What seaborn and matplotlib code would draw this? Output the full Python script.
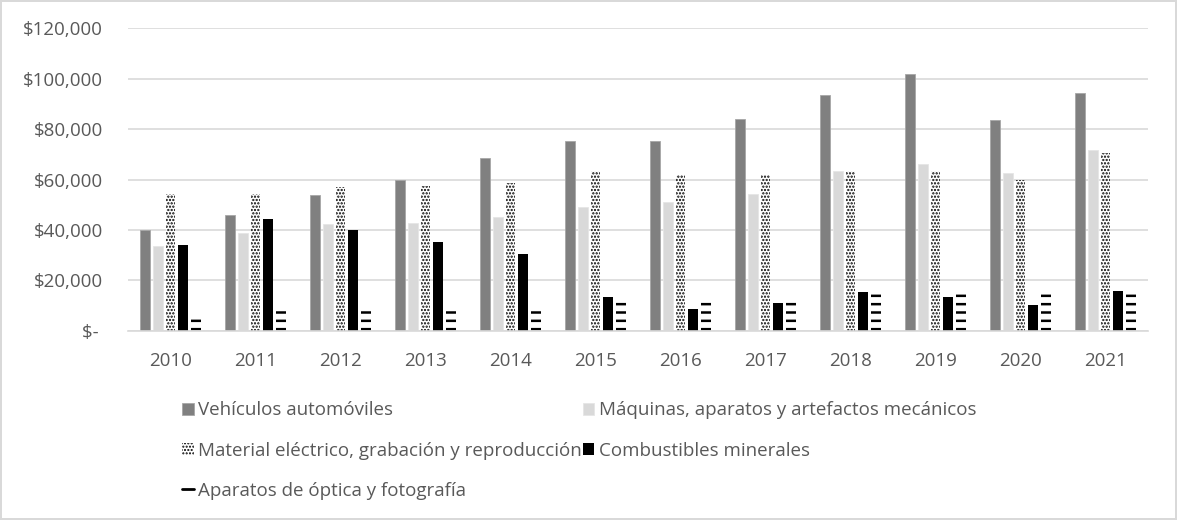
import matplotlib
matplotlib.use("Agg")
import matplotlib.pyplot as plt
import seaborn as sns
import pandas as pd
from matplotlib.lines import Line2D
from matplotlib.ticker import FuncFormatter

years = ["2010", "2011", "2012", "2013", "2014", "2015", "2016", "2017", "2018", "2019", "2020", "2021"]
series = [
    "Vehículos automóviles",
    "Máquinas, aparatos y artefactos mecánicos",
    "Material eléctrico, grabación y reproducción",
    "Combustibles minerales",
    "Aparatos de óptica y fotografía",
]
vehiculos = [40000, 45900, 53700, 59700, 68400, 75150, 75150, 83900, 93400, 101750, 83500, 94450]
maquinas = [33600, 38650, 42300, 42900, 45100, 49200, 51100, 54250, 63400, 66150, 62450, 71600]
material = [54250, 54250, 57100, 57400, 58500, 63400, 61700, 61700, 63400, 63400, 59900, 70650]
combustibles = [34000, 44200, 40000, 35100, 30300, 13650, 8600, 11250, 15350, 13350, 10100, 15900]
optica = [6600, 9500, 9500, 9500, 9500, 12200, 12200, 12200, 15100, 15100, 15100, 15100]

values = [vehiculos, maquinas, material, combustibles, optica]
rows = []
for s, vals in zip(series, values):
    for y, v in zip(years, vals):
        rows.append({"year": y, "series": s, "value": v})
df = pd.DataFrame(rows)

sns.set_theme(style="white")
plt.rcParams["font.family"] = ["Open Sans", "DejaVu Sans"]
plt.rcParams["hatch.linewidth"] = 1.0

fig = plt.figure(figsize=(11.77, 5.2), dpi=100)
fig.patch.set_edgecolor("#d9d9d9")
fig.patch.set_linewidth(1.5)
ax = fig.add_axes([0.1088, 0.3635, 0.8666, 0.5825])

colors = ["#808080", "#d9d9d9", "#ffffff", "#000000", "#ffffff"]
sns.barplot(data=df, x="year", y="value", hue="series", hue_order=series,
            palette=colors, width=0.74, gap=0.22, ax=ax, legend=False,
            errorbar=None, saturation=1)

def set_hlw(p, lw):
    if hasattr(p, "set_hatch_linewidth"):
        p.set_hatch_linewidth(lw)

for i, cont in enumerate(ax.containers):
    for p in cont:
        if i == 0:
            p.set_edgecolor("#a6a6a6"); p.set_linewidth(0.6)
        elif i == 1:
            p.set_edgecolor("#e6e6e6"); p.set_linewidth(0.6)
        elif i == 2:
            p.set_hatch("....."); p.set_edgecolor("black"); p.set_linewidth(0)
            set_hlw(p, 1.1)
        elif i == 3:
            p.set_edgecolor("black"); p.set_linewidth(0)
        else:
            p.set_hatch("--"); p.set_edgecolor("black"); p.set_linewidth(0)
            set_hlw(p, 1.8)

ax.set_ylim(0, 120000)
ax.set_yticks(range(0, 120001, 20000))
ax.yaxis.set_major_formatter(FuncFormatter(lambda v, p: "$- " if v == 0 else f"${int(v):,}"))
ax.grid(axis="y", color="#d9d9d9", linewidth=1.2)
ax.set_axisbelow(True)
for sp in ["top", "right", "left"]:
    ax.spines[sp].set_visible(False)
ax.spines["bottom"].set_color("#d9d9d9")
ax.spines["bottom"].set_linewidth(1.2)
ax.tick_params(axis="both", length=0, labelsize=13.5, labelcolor="#595959")
ax.tick_params(axis="y", pad=18)
ax.tick_params(axis="x", pad=15)
ax.set_xlabel("")
ax.set_ylabel("")

c = ax.containers
h_veh = c[0][0]
h_maq = c[1][0]
h_mat = c[2][0]
h_com = c[3][0]
h_opt = Line2D([], [], color="black", lw=2)
handles = [h_veh, h_mat, h_opt, h_maq, h_com]
labels = [series[0], series[2], series[4], series[1], series[3]]
leg = fig.legend(handles, labels, ncol=2, loc="upper left", bbox_to_anchor=(0.147, 0.246),
                 frameon=False, fontsize=13.5, handlelength=0.6, handleheight=0.6,
                 handletextpad=0.25, columnspacing=0.05, labelspacing=1.18, borderpad=0)
for t in leg.get_texts():
    t.set_color("#595959")

fig.savefig("out.png", dpi=100)
